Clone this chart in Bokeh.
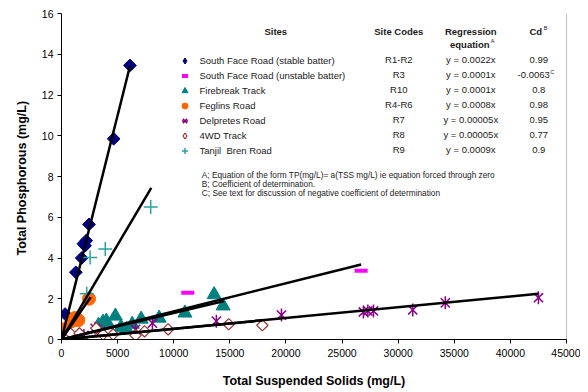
import math
from bokeh.plotting import figure
from bokeh.models import Range1d, Legend, LegendItem, Label, Span, FixedTicker
from bokeh.embed import file_html
from bokeh.resources import INLINE

# ---------------- data ----------------
stable_tss = [50, 320, 1280, 1800, 1950, 2100, 2200, 2450, 4650, 6100]
stable_tp = [0.1, 1.25, 3.3, 4.0, 4.7, 4.6, 4.85, 5.65, 9.85, 13.45]
unstable_tss = [11250, 26700]
unstable_tp = [2.3, 3.38]
fire_tss = [50, 3300, 3700, 4000, 4800, 5300, 5800, 6300, 7100, 8700, 11000, 13600, 14400]
fire_tp = [0.05, 0.7, 0.85, 0.9, 1.15, 0.6, 0.5, 0.75, 1.0, 1.05, 1.3, 2.2, 1.65]
feg_tss = [80, 200, 350, 900, 1200, 1500, 2450]
feg_tp = [0.15, 0.5, 0.3, 0.9, 1.05, 0.95, 2.0]
del_tss = [100, 1700, 2000, 3000, 3500, 6600, 8100, 13800, 19600, 26900, 27300, 27800, 31300, 34200, 42500]
del_tp = [0.05, 0.1, 0.2, 0.55, 0.4, 0.5, 0.8, 0.9, 1.2, 1.35, 1.4, 1.4, 1.45, 1.8, 2.05]
wd_tss = [400, 800, 1600, 3100, 3700, 4600, 6600, 7400, 9500, 14900, 17900]
wd_tp = [0.2, 0.3, 0.3, 0.55, 0.25, 0.25, 0.2, 0.4, 0.5, 0.75, 0.7]
tan_tss = [100, 2250, 2550, 3900, 7950]
tan_tp = [0.05, 2.25, 4.03, 4.44, 6.5]

# fitted lines through zero (slope as drawn, end of line in TSS)
fit_slopes = [0.0022, 0.00093, 0.0008, 0.000138, 0.00013, 0.0000527, 0.0000527]
fit_xmax = [6100, 8000, 2600, 26700, 14500, 42500, 17900]

# legend / table texts
site_names = ["South Face Road (stable batter)", "South Face Road (unstable batter)",
              "Firebreak Track", "Feglins Road", "Delpretes Road", "4WD Track",
              "Tanjil  Bren Road"]
site_codes = ["R1-R2", "R3", "R10", "R4-R6", "R7", "R8", "R9"]
equations = ["y = 0.0022x", "y = 0.0001x", "y = 0.0001x", "y = 0.0008x",
             "y = 0.00005x", "y = 0.00005x", "y = 0.0009x"]
cd_values = ["0.99", "-0.0063", "0.8", "0.98", "0.95", "0.77", "0.9"]
footnotes = ["A; Equation of the form TP(mg/L)= a(TSS mg/L)  ie equation forced through zero",
             "B; Coefficient of determination.",
             "C; See text for discussion of negative coefficient of determination"]
x_ticks = [0, 5000, 10000, 15000, 20000, 25000, 30000, 35000, 40000, 45000]
y_ticks = [0, 2, 4, 6, 8, 10, 12, 14, 16]

FONT = "Liberation Sans"

p = figure(width=580, height=390, x_range=Range1d(0, 45000), y_range=Range1d(0, 16),
           output_backend="svg", toolbar_location=None,
           min_border_left=61, min_border_right=14, min_border_top=13, min_border_bottom=50)
p.grid.visible = False
p.outline_line_color = None
p.background_fill_color = "white"

for ax in (p.xaxis[0], p.yaxis[0]):
    ax.axis_line_color = "black"
    ax.major_tick_line_color = "black"
    ax.minor_tick_line_color = None
    ax.major_tick_in = 0
    ax.major_tick_out = 4
    ax.major_label_text_font = FONT
    ax.major_label_text_font_size = "10.5px"
    ax.major_label_text_color = "black"
    ax.axis_label_text_font = FONT
    ax.axis_label_text_font_style = "bold"
    ax.axis_label_text_font_size = "12.5px"
    ax.axis_label_text_color = "black"

p.xaxis.ticker = FixedTicker(ticks=x_ticks)
p.yaxis.ticker = FixedTicker(ticks=y_ticks)
p.xaxis.axis_label = "Total Suspended Solids (mg/L)"
p.yaxis.axis_label = "Total Phosphorous  (mg/L)"
p.xaxis.major_label_standoff = 5
p.xaxis.axis_label_standoff = 14
p.yaxis.major_label_standoff = 4
p.yaxis.axis_label_standoff = 10

p.add_layout(Span(location=45000, dimension="height", line_color="#808080", line_width=1))

# ---------------- series ----------------
# legend proxies (diamond shape for the legend), fully hidden under the plotted markers
lg_stable = p.scatter(stable_tss, stable_tp, marker="diamond", size=10,
                      fill_color="#000080", line_color="#000080")
lg_wd = p.scatter(wd_tss, wd_tp, marker="diamond", size=9, fill_color="white",
                  line_color="#993333", line_width=1.2)

r_stable = p.scatter(stable_tss, stable_tp, marker="square", angle=math.pi / 4, size=9,
                     fill_color="#000080", line_color="#000080")
r_unst = p.scatter(unstable_tss, unstable_tp, marker="dash", size=13, line_width=4,
                   line_color="#FF00FF")
r_fire = p.scatter(fire_tss, fire_tp, marker="triangle", size=14,
                   fill_color="#008080", line_color="#008080")
r_feg = p.scatter(feg_tss, feg_tp, marker="circle", size=13,
                  fill_color="#FF6600", line_color="#FF6600")
r_del1 = p.scatter(del_tss, del_tp, marker="x", size=13, line_width=1.5, line_color="#880088")
r_del2 = p.scatter(del_tss, del_tp, marker="dash", angle=math.pi / 2, size=13, line_width=1.5,
                   line_color="#880088")
r_wd = p.scatter(wd_tss, wd_tp, marker="square", angle=math.pi / 4, size=8,
                 fill_color="white", line_color="#993333", line_width=1.2)
r_tan = p.scatter(tan_tss, tan_tp, marker="cross", size=14, line_width=1.5, line_color="#2BA3A3")

for s, xm in zip(fit_slopes, fit_xmax):
    p.line([0, xm], [0, s * xm], line_color="black", line_width=2.5)

# ---------------- legend / table ----------------
renderers = [[lg_stable], [r_unst], [r_fire], [r_feg], [r_del1, r_del2], [lg_wd], [r_tan]]
items = [LegendItem(label=n, renderers=r) for n, r in zip(site_names, renderers)]
legend = Legend(items=items, location=(115.5, 181), glyph_width=15, glyph_height=15,
                label_height=15, spacing=0, padding=0, margin=0, label_standoff=8,
                label_text_font=FONT, label_text_font_size="9.5px", label_text_color="#1a1a1a",
                background_fill_alpha=0, border_line_alpha=0)
p.add_layout(legend)

def px_x(px):
    return (px - 60.7) / 505.0 * 45000

def px_y(py):
    return (340.0 - py) / 20.44

def lab(text, x, y, size="9.5px", bold=False, align="center"):
    p.add_layout(Label(x=x, y=y, text=text, text_font=FONT, text_font_size=size,
                       text_font_style="bold" if bold else "normal",
                       text_align=align, text_baseline="middle", text_color="#1a1a1a"))

# headers
lab("Sites", px_x(275), px_y(31), bold=True)
lab("Site Codes", px_x(398), px_y(31), bold=True)
lab("Regression", px_x(470), px_y(31), bold=True)
lab("equation", px_x(469), px_y(44), bold=True)
lab("A", px_x(490), px_y(41), size="5.5px", align="left")
lab("Cd", px_x(535), px_y(31), bold=True)
lab("B", px_x(543), px_y(28), size="5.5px", align="left")

for i in range(len(site_names)):
    yy = px_y(59.5 + 15 * i)
    lab(site_codes[i], px_x(398), yy)
    lab(equations[i], px_x(470), yy)
    if cd_values[i].startswith("-"):
        lab(cd_values[i], px_x(549), yy, align="right")
        lab("C", px_x(549.5), px_y(56.5 + 15 * i), size="5.5px", align="left")
    else:
        lab(cd_values[i], px_x(538), yy)

for j, t in enumerate(footnotes):
    lab(t, px_x(201), px_y(175 + 9 * j), size="8.3px", align="left")

open("out.html", "w").write(file_html(p, INLINE))
